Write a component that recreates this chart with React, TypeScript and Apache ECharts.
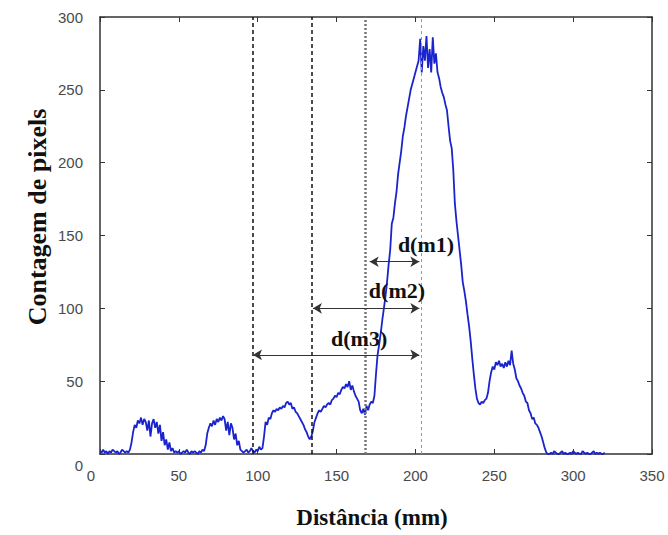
import { useEffect, useRef } from 'react';
import * as echarts from 'echarts';

// Distance samples (mm): one sample per mm starting at 0
const distanciaInicio = 0;
const distanciaPasso = 1;

// Pixel count read from the profile, x = 0..320 mm
const contagem = [
  // 0..19
  2, 1, 3, 1, 2, 0, 2, 1, 3, 2, 1, 2, 0, 1, 3, 2, 1, 2, 1, 3,
  // 20..48
  8, 15, 20, 18, 23, 21, 25, 20, 24, 22, 16, 23, 12, 21, 24, 18, 22, 14, 20, 9, 15, 6, 10, 3, 8, 2, 4, 1, 2,
  // 49..66
  1, 2, 0, 1, 2, 1, 3, 1, 0, 2, 1, 2, 1, 0, 2, 1, 3, 2,
  // 67..90
  6, 14, 18, 21, 19, 23, 20, 24, 22, 25, 23, 26, 24, 16, 22, 13, 21, 18, 10, 14, 6, 9, 3, 2,
  // 91..102
  1, 2, 3, 1, 2, 4, 2, 1, 3, 2, 5, 3,
  // 103..174
  4, 12, 22, 20, 25, 24, 28, 30, 29, 31, 30, 32, 31, 33, 32, 35, 36, 34, 35, 31, 32, 29, 28, 26, 24, 22, 20, 17, 15, 12,
  10, 12, 16, 22, 25, 28, 30, 29, 31, 33, 32, 34, 35, 34, 37, 38, 40, 39, 42, 41, 44, 46, 45, 48, 46, 50, 44, 47, 43, 40,
  38, 36, 30, 28, 31, 27, 33, 30, 34, 36, 35, 40,
  // 175..284
  55, 68, 75, 83, 92, 100, 108, 118, 130, 140, 158, 162, 172, 180, 192, 200, 208, 218, 224, 232, 238, 244, 250, 254, 258,
  262, 266, 270, 285, 262, 280, 270, 287, 265, 278, 262, 286, 268, 275, 262, 258, 252, 248, 245, 240, 236, 225, 215, 210,
  195, 172, 160, 150, 140, 130, 118, 112, 105, 96, 88, 78, 66, 55, 45, 38, 35, 34, 36, 35, 37, 38, 42, 50, 56, 60, 58, 63,
  61, 64, 60, 62, 59, 63, 60, 64, 61, 71, 62, 58, 52, 50, 47, 45, 42, 40, 36, 35, 30, 28, 24, 25, 21, 20, 18, 15, 12, 8,
  4, 1, 0,
  // 285..320
  0, 1, 0, 2, 1, 0, 0, 1, 2, 0, 1, 0, 0, 1, 0, 2, 1, 0, 1, 0, 0, 2, 1, 0, 1, 0, 0, 1, 2, 0, 1, 0, 1, 0, 0, 1,
];

// Vertical reference lines (mm)
const linhasVerticais = [97, 134, 168, 203.5];

// Double arrows: start/end (mm) and height (pixels)
const setasNomes = ['d(m1)', 'd(m2)', 'd(m3)'];
const setasInicio = [171, 135, 97];
const setasFim = [202.5, 202.5, 202.5];
const setasAltura = [132, 100, 68];
const rotulosX = [206.7, 188.3, 164.3];
const rotulosY = [144, 112, 79.6];

const xMin = 0, xMax = 350, xIntervalo = 50;
const yMin = 0, yMax = 300, yIntervalo = 50;

export default function App() {
  const ref = useRef<HTMLDivElement>(null);

  useEffect(() => {
    if (!ref.current) return;
    const chart = echarts.init(ref.current, undefined, { renderer: 'svg' });

    const dados = contagem.map((v, i) => [distanciaInicio + i * distanciaPasso, v]);

    const estilosVerticais = [
      { color: '#111', width: 1.5, type: [4, 3] },
      { color: '#111', width: 1.5, type: [4, 3] },
      { color: '#777', width: 2.5, type: [2, 2] },
      { color: '#999', width: 1, type: [3, 3] },
    ];

    const tickFont = {
      color: '#4a4a4a',
      fontSize: 15,
      fontFamily: 'Liberation Sans, Arial, sans-serif',
    };

    const option: any = {
      animation: false,
      backgroundColor: '#fff',
      grid: { left: 100, right: 16, top: 17, bottom: 81 },
      xAxis: [
        {
          type: 'value',
          min: xMin,
          max: xMax,
          interval: xIntervalo,
          position: 'bottom',
          axisLine: { show: true, onZero: false, lineStyle: { color: '#333', width: 1.5 } },
          axisTick: { show: true, inside: true, length: 5, lineStyle: { color: '#333' } },
          splitLine: { show: false },
          axisLabel: {
            ...tickFont,
            margin: 14,
            formatter: (v: number) => (v === 0 ? '{z|0}' : String(v)),
            rich: { z: { ...tickFont, padding: [0, 18, 0, 0] } },
          },
        },
        {
          type: 'value',
          min: xMin,
          max: xMax,
          interval: xIntervalo,
          position: 'top',
          axisLine: { show: true, onZero: false, lineStyle: { color: '#333', width: 1.5 } },
          axisTick: { show: true, inside: true, length: 5, lineStyle: { color: '#333' } },
          splitLine: { show: false },
          axisLabel: { show: false },
        },
      ],
      yAxis: [
        {
          type: 'value',
          min: yMin,
          max: yMax,
          interval: yIntervalo,
          position: 'left',
          axisLine: { show: true, onZero: false, lineStyle: { color: '#333', width: 1.5 } },
          axisTick: { show: true, inside: true, length: 5, lineStyle: { color: '#333' } },
          splitLine: { show: false },
          axisLabel: {
            ...tickFont,
            margin: 17,
            formatter: (v: number) => (v === 0 ? '{z|0}' : String(v)),
            rich: { z: { ...tickFont, padding: [22, 0, 0, 0] } },
          },
        },
        {
          type: 'value',
          min: yMin,
          max: yMax,
          interval: yIntervalo,
          position: 'right',
          axisLine: { show: true, onZero: false, lineStyle: { color: '#333', width: 1.5 } },
          axisTick: { show: true, inside: true, length: 5, lineStyle: { color: '#333' } },
          splitLine: { show: false },
          axisLabel: { show: false },
        },
      ],
      graphic: [
        {
          type: 'text',
          x: 372,
          y: 517,
          style: {
            text: 'Distância (mm)',
            font: 'bold 23px "Liberation Serif", "Times New Roman", serif',
            fill: '#111',
            textAlign: 'center',
            textVerticalAlign: 'middle',
          },
        },
        {
          type: 'text',
          x: 37,
          y: 217,
          rotation: Math.PI / 2,
          style: {
            text: 'Contagem de pixels',
            font: 'bold 26px "Liberation Serif", "Times New Roman", serif',
            fill: '#111',
            textAlign: 'center',
            textVerticalAlign: 'middle',
          },
        },
      ],
      series: [
        {
          type: 'line',
          name: 'perfil',
          xAxisIndex: 0,
          yAxisIndex: 0,
          data: dados,
          showSymbol: false,
          symbol: 'none',
          lineStyle: { color: '#1a24cc', width: 1.8 },
          z: 3,
          markLine: {
            silent: true,
            symbol: 'none',
            label: { show: false },
            data: linhasVerticais.map((x, i) => ({ xAxis: x, lineStyle: estilosVerticais[i] })),
          },
        },
        {
          type: 'line',
          name: 'setas',
          xAxisIndex: 0,
          yAxisIndex: 0,
          data: [],
          z: 4,
          markLine: {
            silent: true,
            symbol: ['arrow', 'arrow'],
            symbolSize: [8, 9],
            label: { show: false },
            lineStyle: { color: '#333', width: 1, type: 'solid' },
            data: setasNomes.map((_, i) => [
              { coord: [setasInicio[i], setasAltura[i]] },
              { coord: [setasFim[i], setasAltura[i]] },
            ]),
          },
          markPoint: {
            silent: true,
            symbol: 'rect',
            symbolSize: 1,
            itemStyle: { color: 'rgba(0,0,0,0)' },
            label: {
              show: true,
              position: 'inside',
              color: '#111',
              fontFamily: '"Liberation Serif", "Times New Roman", serif',
              fontWeight: 'bold',
              fontSize: 22,
            },
            data: setasNomes.map((nome, i) => ({
              coord: [rotulosX[i], rotulosY[i]],
              value: nome,
              label: { formatter: nome },
            })),
          },
        },
      ],
    };

    chart.setOption(option);
    return () => chart.dispose();
  }, []);

  return (
    <div
      ref={ref}
      style={{ position: 'fixed', left: 0, top: 0, width: 668, height: 535, background: '#fff' }}
    />
  );
}
